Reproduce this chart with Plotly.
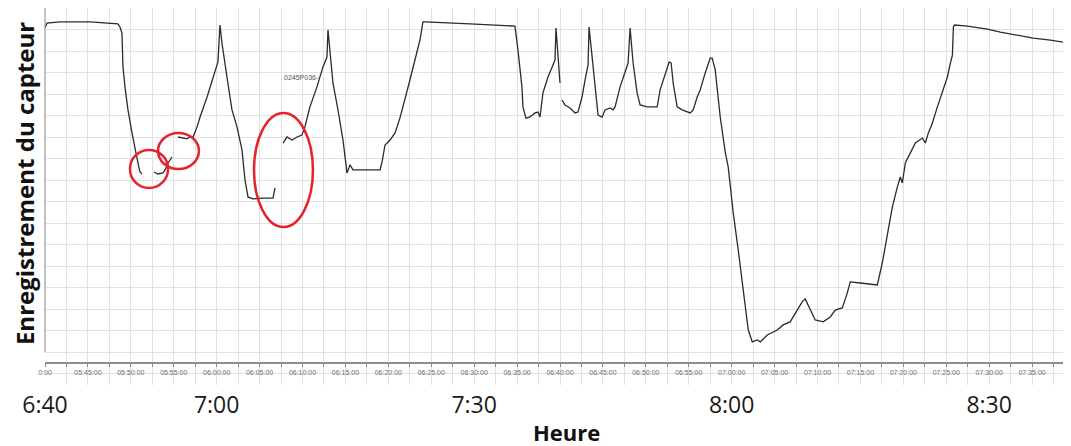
import plotly.graph_objects as go
from datetime import datetime, timedelta

DAY = "2024-01-01 "

# ---- sensor trace (local time, arbitrary sensor units) ----
times = [
    "06:40:00", "06:40:14", "06:41:45", "06:45:15", "06:48:30", "06:48:44", "06:48:58", "06:49:05",
    "06:49:19", "06:49:40", "06:50:08", "06:50:29", "06:50:50", "06:51:04", "06:51:18",
    "06:52:00",
    "06:52:42", "06:53:10", "06:53:45", "06:53:59", "06:54:20", "06:54:48",
    "06:55:10",
    "06:55:30", "06:56:05", "06:56:33", "06:56:54", "06:57:15", "06:57:43", "06:58:04", "06:58:53",
    "06:59:35", "07:00:09", "07:00:23", "07:00:37", "07:01:12", "07:01:47", "07:02:22", "07:02:57",
    "07:03:18", "07:03:39", "07:04:14", "07:05:24", "07:06:34", "07:06:48",
    "07:07:15",
    "07:07:44", "07:08:12", "07:08:47", "07:09:22", "07:09:56", "07:10:17", "07:10:52", "07:11:41",
    "07:12:23", "07:12:51", "07:12:58", "07:13:12", "07:13:33", "07:14:08", "07:14:43", "07:15:11",
    "07:15:32", "07:15:53", "07:16:42", "07:17:52", "07:19:02", "07:19:16", "07:19:37", "07:20:12",
    "07:20:47", "07:21:21", "07:21:56", "07:22:31", "07:23:06", "07:23:41", "07:24:02", "07:24:16",
    "07:29:31", "07:34:45", "07:35:06", "07:35:34", "07:35:41", "07:36:02", "07:36:30", "07:37:05",
    "07:37:26", "07:37:40", "07:38:01", "07:38:36", "07:39:11", "07:39:25", "07:39:32", "07:39:46",
    "07:40:00",
    "07:40:07",
    "07:40:14", "07:40:35", "07:41:10", "07:41:45", "07:42:06", "07:42:34", "07:42:55", "07:43:16",
    "07:43:23", "07:43:44", "07:44:05", "07:44:26", "07:44:54", "07:45:15", "07:45:50", "07:46:11",
    "07:46:25", "07:47:00", "07:47:35", "07:47:56", "07:48:10", "07:48:31", "07:48:59", "07:49:20",
    "07:50:09", "07:51:05", "07:51:19", "07:51:40", "07:52:15", "07:52:43", "07:52:57", "07:53:11",
    "07:53:39", "07:54:14", "07:55:10", "07:55:31", "07:55:59", "07:56:20", "07:56:55", "07:57:30",
    "07:57:44", "07:58:05", "07:58:40", "07:59:15", "07:59:36", "08:00:11", "08:00:46", "08:01:21",
    "08:01:56", "08:02:24", "08:02:59", "08:03:20", "08:04:09", "08:05:19", "08:06:00", "08:06:49",
    "08:07:38", "08:08:13", "08:08:34", "08:09:09", "08:09:44", "08:10:40", "08:11:29", "08:12:04",
    "08:12:53", "08:13:28", "08:13:49", "08:14:59", "08:16:09", "08:16:58", "08:17:33", "08:18:08",
    "08:18:43", "08:19:18", "08:19:39", "08:19:53", "08:20:14", "08:20:49", "08:21:24", "08:22:13",
    "08:22:34", "08:22:55", "08:23:23", "08:23:58", "08:24:33", "08:25:08", "08:25:29", "08:25:43",
    "08:25:50", "08:25:57", "08:27:28", "08:29:48", "08:31:18", "08:33:17", "08:35:08", "08:37:08",
    "08:39:13",
]
values = [
    150.7, 153.0, 153.5, 153.5, 152.6, 151.2, 148.4, 132.6,
    123.3, 112.6, 101.9, 94.0, 87.9, 83.7, 82.8,
    None,
    83.7, 82.8, 83.3, 84.7, 87.9, 90.7,
    None,
    100.0, 99.5, 99.1, 100.0, 100.0, 104.7, 109.3, 118.6,
    127.9, 134.9, 152.1, 143.7, 127.9, 112.6, 104.7, 94.0,
    80.0, 72.1, 71.2, 71.6, 71.6, 76.3,
    None,
    97.2, 100.0, 98.6, 100.0, 100.9, 104.7, 114.0, 123.3,
    132.6, 137.2, 149.8, 139.1, 125.1, 112.6, 98.6, 83.3,
    87.0, 84.7, 84.7, 84.7, 84.7, 88.4, 96.3, 98.6,
    101.9, 108.8, 117.2, 126.5, 135.8, 145.1, 153.5, 153.5,
    152.6, 151.6, 140.5, 123.3, 114.0, 108.8, 109.3, 111.2,
    111.6, 109.3, 120.5, 127.9, 133.5, 135.8, 150.7, 139.1,
    125.1,
    None,
    117.2, 114.9, 113.5, 111.2, 111.6, 118.6, 126.5, 133.5,
    151.2, 137.2, 123.3, 110.2, 109.3, 112.6, 113.5, 112.6,
    114.0, 123.3, 130.2, 134.4, 150.7, 134.4, 120.5, 114.9,
    114.0, 114.0, 114.0, 121.9, 129.8, 134.9, 134.4, 125.1,
    114.0, 112.6, 111.2, 112.6, 118.6, 121.9, 129.8, 136.7,
    136.7, 131.2, 109.3, 93.0, 86.0, 64.7, 47.4, 28.8,
    10.2, 4.7, 5.6, 4.7, 7.9, 10.2, 12.6, 14.0,
    19.5, 23.3, 24.7, 19.5, 14.9, 14.0, 16.3, 19.5,
    20.5, 27.4, 32.6, 32.1, 31.6, 31.2, 41.4, 55.3,
    67.4, 76.7, 81.4, 78.6, 87.9, 92.6, 97.2, 99.5,
    97.2, 101.9, 106.5, 114.0, 120.5, 127.9, 134.4, 138.1,
    151.2, 152.1, 151.6, 150.2, 148.8, 147.4, 146.0, 145.1,
    143.7,
]

# ---- axis labels ----
big_tick_times = ["06:40:00", "07:00:00", "07:30:00", "08:00:00", "08:30:00"]
big_tick_text = ["6:40", "7:00", "7:30", "8:00", "8:30"]

inner_tick_times = [
    "05:40:00", "05:45:00", "05:50:00", "05:55:00", "06:00:00", "06:05:00", "06:10:00", "06:15:00",
    "06:20:00", "06:25:00", "06:30:00", "06:35:00", "06:40:00", "06:45:00", "06:50:00", "06:55:00",
    "07:00:00", "07:05:00", "07:10:00", "07:15:00", "07:20:00", "07:25:00", "07:30:00", "07:35:00",
    "07:40:00",
]
inner_tick_text = [
    "0:00", "05:45:00", "05:50:00", "05:55:00", "06:00:00", "06:05:00", "06:10:00", "06:15:00",
    "06:20:00", "06:25:00", "06:30:00", "06:35:00", "06:40:00", "06:45:00", "06:50:00", "06:55:00",
    "07:00:00", "07:05:00", "07:10:00", "07:15:00", "07:20:00", "07:25:00", "07:30:00", "07:35:00",
    "07:40:00",
]

# highlighted zones (local time start/end, value low/high)
circle_t0 = ["06:49:54", "06:53:10", "07:04:21"]
circle_t1 = ["06:54:20", "06:57:56", "07:11:13"]
circle_v0 = [76.3, 85.1, 58.1]
circle_v1 = [94.0, 101.9, 111.2]

x_start = "06:40:00"
x_end = "08:40:28"
SENSOR_OFFSET = timedelta(hours=1)


def d(t):
    return DAY + t


def shift(t):
    dt = datetime.strptime(DAY + t, "%Y-%m-%d %H:%M:%S") - SENSOR_OFFSET
    return dt.strftime("%Y-%m-%d %H:%M:%S")


GRID = "#e1e1e1"

fig = go.Figure()
fig.add_trace(go.Scatter(
    x=[d(t) for t in times], y=values, mode="lines",
    line=dict(color="#2b2b2b", width=1.3), connectgaps=False,
    showlegend=False, hoverinfo="skip",
))
# invisible trace to bind the sensor-clock axis
fig.add_trace(go.Scatter(
    x=[shift(x_start), shift(x_end)], y=[None, None], xaxis="x2", mode="lines",
    showlegend=False, hoverinfo="skip",
))

for a, b, lo, hi in zip(circle_t0, circle_t1, circle_v0, circle_v1):
    fig.add_shape(type="circle", xref="x", yref="y", x0=d(a), x1=d(b), y0=lo, y1=hi,
                  line=dict(color="#e4232b", width=2.5), layer="above")

# left axis line
fig.add_shape(type="line", xref="paper", yref="y", x0=0, x1=0, y0=0, y1=160,
              line=dict(color="#9a9a9a", width=1.2))

fig.add_annotation(x=d("07:07:37"), y=127.9, xref="x", yref="y", text="0245P036-",
                   showarrow=False, xanchor="left", yanchor="middle",
                   font=dict(family="Liberation Sans", size=7, color="#555555"))

fig.add_annotation(x=-0.0203, y=0.533, xref="paper", yref="paper",
                   text="<b>Enregistrement du capteur</b>", textangle=-90, showarrow=False,
                   xanchor="center", yanchor="middle", borderpad=0,
                   font=dict(family="Open Sans", size=24, color="#111111"))
fig.add_annotation(x=0.5048, y=-0.1247, xref="paper", yref="paper", text="<b>Heure</b>",
                   showarrow=False, xanchor="center", yanchor="middle",
                   font=dict(family="Open Sans", size=22, color="#111111"))

fig.update_layout(
    width=1071, height=446,
    margin=dict(l=37, r=0, t=0, b=69),
    paper_bgcolor="white", plot_bgcolor="white",
    xaxis=dict(
        type="date", range=[d(x_start), d(x_end)],
        tickmode="array", tickvals=[d(t) for t in big_tick_times], ticktext=big_tick_text,
        ticks="", showline=False, zeroline=False,
        showgrid=True, gridcolor=GRID, gridwidth=1,
        minor=dict(dtick=150000, tick0=d(x_start), showgrid=True, gridcolor=GRID, gridwidth=1),
        tickfont=dict(family="Open Sans", size=23, color="#1a1a1a"),
        ticklabelstandoff=4, automargin=False,
    ),
    xaxis2=dict(
        type="date", overlaying="x", anchor="free", position=(385 - 363) / 377, side="bottom",
        range=[shift(x_start), shift(x_end)],
        tickmode="array", tickvals=[DAY + t for t in inner_tick_times], ticktext=inner_tick_text,
        showline=True, linecolor="#8c8c8c", linewidth=1.5,
        ticks="outside", ticklen=3, tickcolor="#8c8c8c",
        minor=dict(dtick=150000, tick0=shift(x_start), ticks="outside", ticklen=3, tickcolor="#8c8c8c"),
        showgrid=False, zeroline=False,
        tickfont=dict(family="Liberation Sans", size=7, color="#6e6e6e"),
        automargin=False,
    ),
    yaxis=dict(
        range=[-15.35, 160], dtick=10, tick0=0,
        showgrid=True, gridcolor=GRID, gridwidth=1,
        showticklabels=False, ticks="", zeroline=False, showline=False, automargin=False,
    ),
)

fig.write_html("out.html")
